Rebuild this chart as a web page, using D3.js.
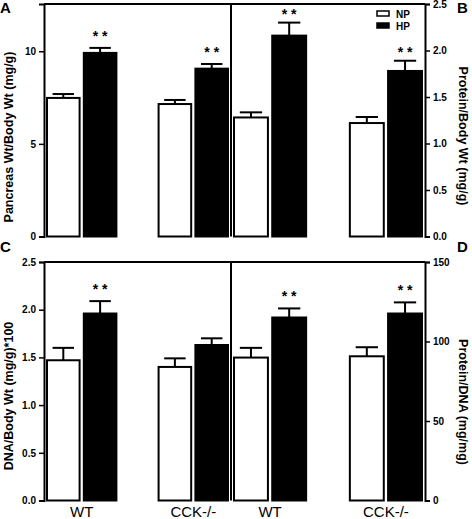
<!DOCTYPE html>
<html>
<head>
<meta charset="utf-8">
<script src="https://cdn.jsdelivr.net/npm/d3@7"></script>
<style>
  html, body { margin: 0; padding: 0; background: #fff; }
  svg { display: block; }
  text { font-family: "Liberation Sans", Arial, sans-serif; fill: #000; }
</style>
</head>
<body>
<svg id="chart" width="472" height="519"></svg>
<script>
// ---------- data ----------
const groups = ["WT", "CCK-/-"];
const series = ["NP", "HP"];

// Panel A: Pancreas Wt / Body Wt (mg/g)
const pancreasNP = [7.48, 7.15];
const pancreasHP = [9.91, 9.06];
const pancreasNPsem = [0.21, 0.22];
const pancreasHPsem = [0.27, 0.25];
const pancreasSig = ["**", "**"];
const pancreasTicks = [0, 5, 10];

// Panel B: Protein / Body Wt (mg/g)
const proteinNP = [1.28, 1.22];
const proteinHP = [2.16, 1.78];
const proteinNPsem = [0.055, 0.065];
const proteinHPsem = [0.14, 0.11];
const proteinSig = ["**", "**"];
const proteinTicks = [0, 0.5, 1.0, 1.5, 2.0, 2.5];

// Panel C: DNA / Body Wt (mg/g)*100
const dnaNP = [1.47, 1.40];
const dnaHP = [1.96, 1.63];
const dnaNPsem = [0.13, 0.09];
const dnaHPsem = [0.13, 0.07];
const dnaSig = ["**", ""];
const dnaTicks = [0, 0.5, 1.0, 1.5, 2.0, 2.5];

// Panel D: Protein / DNA (mg/mg)
const ratioNP = [89.9, 90.7];
const ratioHP = [115.1, 117.6];
const ratioNPsem = [6.1, 5.7];
const ratioHPsem = [5.7, 7.0];
const ratioSig = ["**", "**"];
const ratioTicks = [0, 50, 100, 150];

// ---------- layout ----------
const svg = d3.select("#chart");
const xL = 44, xM = 231, xR = 425;
const topRow = {y0: 4, y1: 236.5};
const botRow = {y0: 262, y1: 500.5};

const panels = [
  {letter: "A", np: pancreasNP, hp: pancreasHP, npE: pancreasNPsem, hpE: pancreasHPsem, sig: pancreasSig,
   ticks: pancreasTicks, domain: [0, 12.55], fmt: d3.format("d"), side: "left",
   x0: xL, x1: xM, row: topRow, label: "Pancreas Wt/Body Wt (mg/g)", labelY: 137, starGap: 15},
  {letter: "B", np: proteinNP, hp: proteinHP, npE: proteinNPsem, hpE: proteinHPsem, sig: proteinSig,
   ticks: proteinTicks, domain: [0, 2.5], fmt: d3.format(".1f"), side: "right",
   x0: xM, x1: xR, row: topRow, label: "Protein/Body Wt (mg/g)", labelY: 136, starGap: 12},
  {letter: "C", np: dnaNP, hp: dnaHP, npE: dnaNPsem, hpE: dnaHPsem, sig: dnaSig,
   ticks: dnaTicks, domain: [0, 2.5], fmt: d3.format(".1f"), side: "left",
   x0: xL, x1: xM, row: botRow, label: "DNA/Body Wt (mg/g)*100", labelY: 396, starGap: 15},
  {letter: "D", np: ratioNP, hp: ratioHP, npE: ratioNPsem, hpE: ratioHPsem, sig: ratioSig,
   ticks: ratioTicks, domain: [0, 150], fmt: d3.format("d"), side: "right",
   x0: xM, x1: xR, row: botRow, label: "Protein/DNA (mg/mg)", labelY: 402, starGap: 15}
];

panels.forEach(p => {
  const g = svg.append("g");
  const y = d3.scaleLinear().domain(p.domain).range([p.row.y1, p.row.y0]);
  const xg = d3.scaleBand().domain(groups).range([p.x0 + 2, p.x1 - 2]).paddingInner(0.36).paddingOuter(0);
  const xs = d3.scaleBand().domain(series).range([0, xg.bandwidth()]).paddingInner(0.06);

  const rows = groups.map((grp, i) => ([
    {grp, s: "NP", v: p.np[i], e: p.npE[i], sig: ""},
    {grp, s: "HP", v: p.hp[i], e: p.hpE[i], sig: p.sig[i]}
  ])).flat();

  // error bars (drawn first so bar covers the stem)
  const capW = xs.bandwidth() * 0.62;
  rows.forEach(d => {
    const cx = xg(d.grp) + xs(d.s) + xs.bandwidth() / 2;
    g.append("line").attr("x1", cx).attr("x2", cx)
      .attr("y1", y(d.v)).attr("y2", y(d.v + d.e))
      .attr("stroke", "#000").attr("stroke-width", 2);
    g.append("line").attr("x1", cx - capW / 2).attr("x2", cx + capW / 2)
      .attr("y1", y(d.v + d.e)).attr("y2", y(d.v + d.e))
      .attr("stroke", "#000").attr("stroke-width", 2);
  });

  // bars
  g.selectAll("rect.bar").data(rows).join("rect")
    .attr("class", "bar")
    .attr("x", d => xg(d.grp) + xs(d.s) + 1)
    .attr("width", xs.bandwidth() - 2)
    .attr("y", d => y(d.v))
    .attr("height", d => y(0) - y(d.v))
    .attr("fill", d => d.s === "NP" ? "#fff" : "#000")
    .attr("stroke", "#000").attr("stroke-width", 2);

  // significance stars
  rows.filter(d => d.sig).forEach(d => {
    const cx = xg(d.grp) + xs(d.s) + xs.bandwidth() / 2;
    g.append("text").attr("x", cx).attr("y", y(d.v + d.e) - p.starGap + 8)
      .attr("text-anchor", "middle").attr("font-size", 14).attr("font-weight", "bold")
      .text(d.sig.split("").join(" "));
  });

  // frame: top line
  g.append("line").attr("x1", p.x0).attr("x2", p.x1).attr("y1", p.row.y0).attr("y2", p.row.y0)
    .attr("stroke", "#000").attr("stroke-width", 2);

  // axis
  const axis = (p.side === "left" ? d3.axisLeft(y) : d3.axisRight(y))
    .tickValues(p.ticks).tickFormat(p.fmt).tickSize(5).tickPadding(3);
  const ax = g.append("g")
    .attr("transform", `translate(${p.side === "left" ? p.x0 : p.x1},0)`)
    .call(axis);
  ax.select(".domain").attr("stroke-width", 2);
  ax.selectAll(".tick line").attr("stroke-width", 1.5);
  ax.selectAll(".tick text")
    .attr("font-family", "'Liberation Sans Narrow', 'Liberation Sans', Arial, sans-serif")
    .attr("font-size", 10).attr("font-weight", "bold").attr("fill", "#000");

  // axis label
  const lx = p.side === "left" ? 9 : 463;
  g.append("text")
    .attr("transform", `translate(${lx},${p.labelY}) rotate(${p.side === "left" ? -90 : 90})`)
    .attr("text-anchor", "middle").attr("dominant-baseline", "central")
    .attr("font-size", 12.5).attr("font-weight", "bold")
    .text(p.label);

  // panel letter
  g.append("text")
    .attr("x", p.side === "left" ? 0 : 457)
    .attr("y", p.row === topRow ? 13 : 252)
    .attr("font-size", 15).attr("font-weight", "bold")
    .text(p.letter);

  // group labels (bottom row only)
  if (p.row === botRow) {
    groups.forEach(grp => {
      g.append("text").attr("x", xg(grp) + xg.bandwidth() / 2).attr("y", 517)
        .attr("text-anchor", "middle").attr("font-size", 15)
        .text(grp);
    });
  }

  // legend in panel B
  if (p.letter === "B") {
    const lg = g.append("g");
    series.forEach((s, i) => {
      lg.append("rect").attr("x", 377).attr("y", 11 + i * 12).attr("width", 12).attr("height", 5)
        .attr("fill", s === "NP" ? "#fff" : "#000").attr("stroke", "#000").attr("stroke-width", 1.5);
      lg.append("text").attr("x", 396).attr("y", 18 + i * 12)
        .attr("font-size", 10).attr("font-weight", "bold").text(s);
    });
  }
});

// vertical dividers between left and right panels
[topRow, botRow].forEach(r => {
  svg.append("line").attr("x1", xM).attr("x2", xM).attr("y1", r.y0).attr("y2", r.y1)
    .attr("stroke", "#000").attr("stroke-width", 2);
});
</script>
</body>
</html>
